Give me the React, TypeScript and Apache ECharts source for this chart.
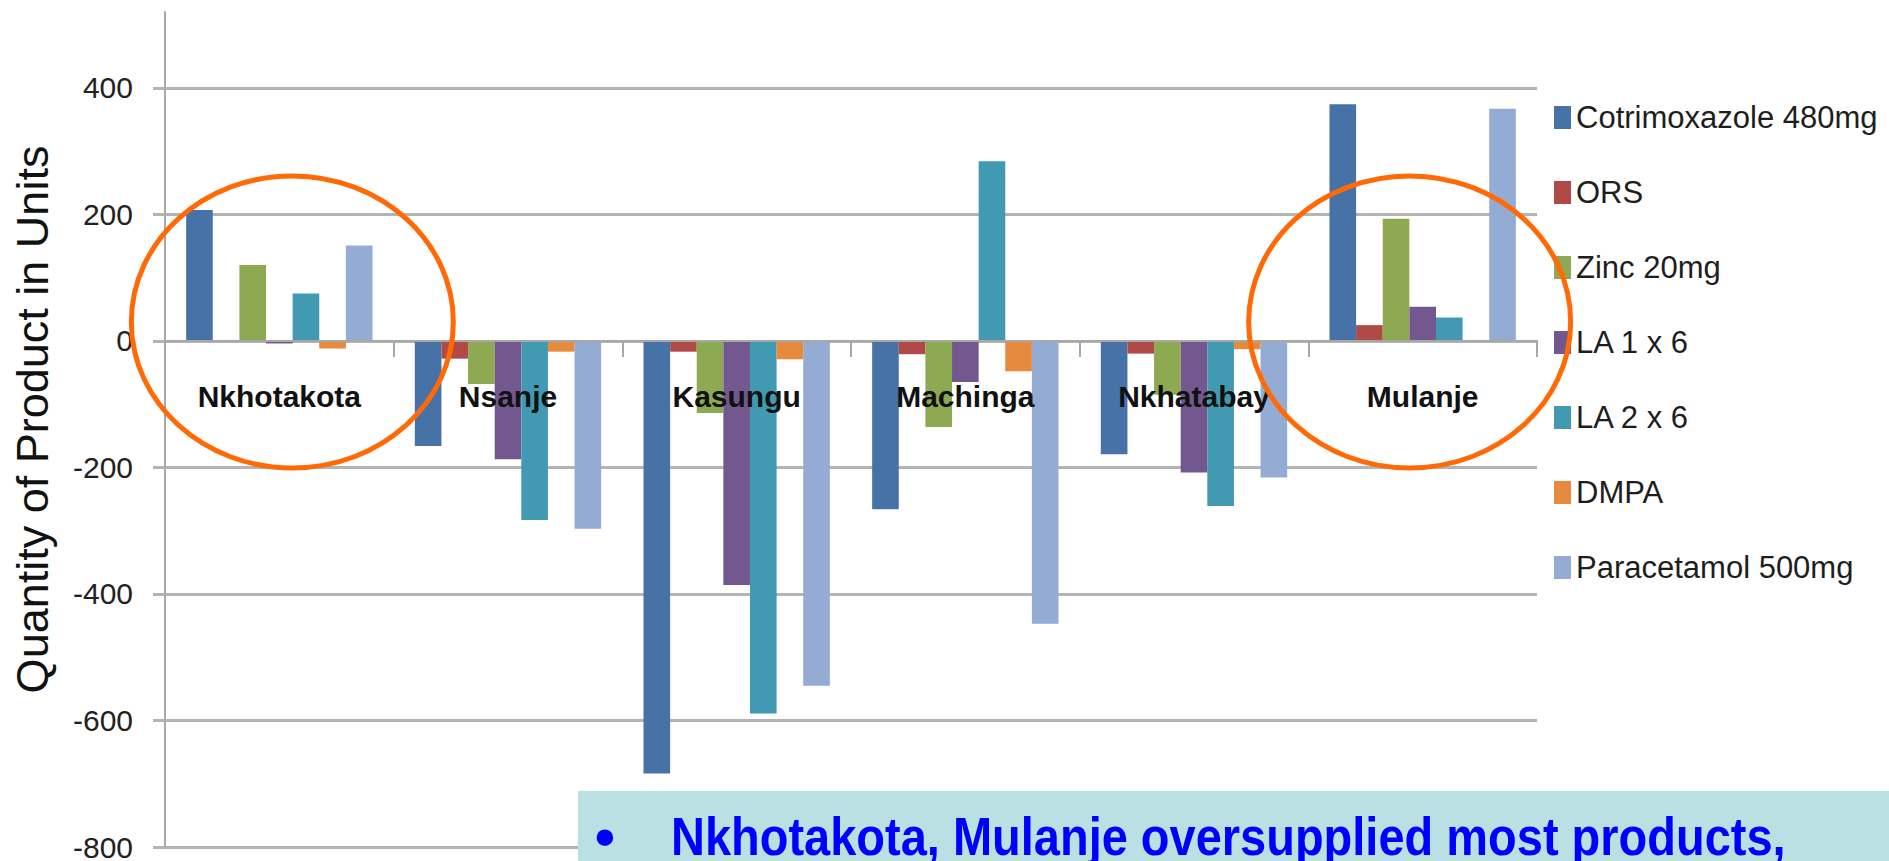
import React, { useEffect, useRef } from 'react';
import * as echarts from 'echarts';

// Districts along the category axis
const districts = ['Nkhotakota', 'Nsanje', 'Kasungu', 'Machinga', 'Nkhatabay', 'Mulanje'];

// Quantity of product in units (positive = oversupply, negative = undersupply)
const cotrimoxazole480 = [207, -166, -684, -266, -179, 374];
const ors = [0, -28, -17, -21, -20, 25];
const zinc20 = [120, -68, -114, -136, -85, 193];
const la1x6 = [-4, -187, -386, -65, -208, 54];
const la2x6 = [75, -283, -589, 284, -261, 37];
const dmpa = [-12, -17, -29, -48, -13, 0];
const paracetamol500 = [151, -297, -545, -447, -216, 367];

const productNames = [
  'Cotrimoxazole 480mg',
  'ORS',
  'Zinc 20mg',
  'LA 1 x 6',
  'LA 2 x 6',
  'DMPA',
  'Paracetamol 500mg',
];
const productValues = [cotrimoxazole480, ors, zinc20, la1x6, la2x6, dmpa, paracetamol500];
const productColors = ['#4672A8', '#B04A47', '#8DAA52', '#73588F', '#4299B2', '#E68A3E', '#94ABD3'];

const yTickValues = [-800, -600, -400, -200, 0, 200, 400];
const yMin = -800;
const yMax = 520;

const circledDistricts = ['Nkhotakota', 'Mulanje'];
const noteLine = 'Nkhotakota, Mulanje oversupplied most products,';

const SANS = '"Liberation Sans", Arial, sans-serif';

export default function App() {
  const ref = useRef<HTMLDivElement>(null);

  useEffect(() => {
    const chart = echarts.init(ref.current as HTMLDivElement, null, { renderer: 'svg' });

    chart.setOption({
      animation: false,
      backgroundColor: '#ffffff',
      grid: {
        left: 165,
        right: 352,
        top: 12,
        bottom: 14,
        containLabel: false,
        outerBoundsMode: 'none',
      },
      legend: {
        orient: 'vertical',
        left: 1554,
        top: 102,
        padding: 0,
        icon: 'rect',
        itemWidth: 17,
        itemHeight: 23,
        itemGap: 44,
        data: productNames,
        textStyle: { fontFamily: SANS, fontSize: 31, color: '#1e1e1e' },
      },
      xAxis: {
        type: 'category',
        data: districts,
        z: 5,
        offset: 0,
        axisLine: { onZero: false, lineStyle: { color: '#a8a8a8', width: 2 } },
        axisTick: { show: true, length: 16, lineStyle: { color: '#a8a8a8', width: 2 } },
        axisLabel: {
          interval: 0,
          margin: 41,
          fontFamily: SANS,
          fontWeight: 'bold',
          fontSize: 30,
          color: '#111111',
        },
        splitLine: { show: false },
      },
      yAxis: {
        type: 'value',
        min: yMin,
        max: yMax,
        interval: 200,
        name: 'Quantity of Product in Units',
        nameLocation: 'middle',
        nameRotate: 90,
        nameGap: 110,
        nameTextStyle: {
          fontFamily: SANS,
          fontSize: 45,
          color: '#111111',
          padding: [0, 0, 0, 20],
        },
        axisLine: { show: true, lineStyle: { color: '#a8a8a8', width: 2 } },
        axisTick: {
          show: true,
          length: 12,
          customValues: yTickValues,
          lineStyle: { color: '#b4b4b4', width: 3 },
        },
        axisLabel: {
          margin: 32,
          customValues: yTickValues,
          fontFamily: SANS,
          fontSize: 30,
          color: '#222222',
        },
        splitLine: {
          show: true,
          lineStyle: { color: '#b4b4b4', width: 3 },
        },
      },
      series: productNames.map((name, i) => ({
        name,
        type: 'bar',
        data: productValues[i],
        barGap: '0%',
        barCategoryGap: '18.5%',
        itemStyle: { color: productColors[i] },
      })),
    });

    // Move the category axis (line, ticks and labels) up to the zero line
    const zeroY = chart.convertToPixel({ yAxisIndex: 0 }, 0) as number;
    const baseY = chart.convertToPixel({ yAxisIndex: 0 }, yMin) as number;
    chart.setOption({ xAxis: { offset: zeroY - baseY } });

    // Orange rings around the oversupplied districts, placed from the axis scales
    const ring = (district: string, dx: number) => {
      const idx = districts.indexOf(district);
      const p = chart.convertToPixel({ xAxisIndex: 0, yAxisIndex: 0 }, [idx, 30]) as number[];
      return {
        type: 'ellipse',
        z: 100,
        shape: { cx: p[0] + dx, cy: p[1], rx: 161, ry: 146 },
        style: { fill: 'none', stroke: '#FF6A06', lineWidth: 5 },
      };
    };

    chart.setOption({
      graphic: [
        ring(circledDistricts[0], 13),
        ring(circledDistricts[1], -13),
        {
          type: 'rect',
          z: 50,
          shape: { x: 578, y: 791, width: 1311, height: 70 },
          style: { fill: '#B9E0E3' },
        },
        {
          type: 'text',
          z: 51,
          style: {
            text: '•',
            x: 605,
            y: 836,
            textAlign: 'center',
            verticalAlign: 'middle',
            fontFamily: SANS,
            fontWeight: 'bold',
            fontSize: 58,
            fill: '#0000FF',
          },
        },
        {
          type: 'text',
          z: 51,
          x: 671,
          y: 836,
          scaleY: 1.15,
          style: {
            text: noteLine,
            x: 0,
            y: 0,
            textAlign: 'left',
            verticalAlign: 'middle',
            fontFamily: SANS,
            fontWeight: 'bold',
            fontSize: 47,
            fill: '#0000FF',
          },
        },
      ],
    });

    return () => chart.dispose();
  }, []);

  return (
    <div
      ref={ref}
      style={{ position: 'fixed', left: 0, top: 0, width: 1889, height: 861, background: '#ffffff' }}
    />
  );
}
